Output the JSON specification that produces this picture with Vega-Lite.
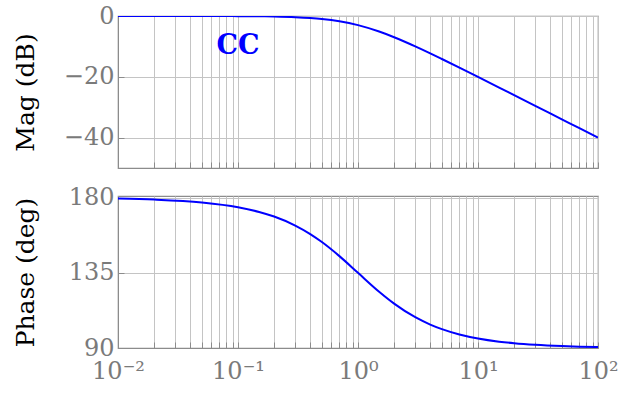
{
  "$schema": "https://vega.github.io/schema/vega-lite/v6.json",
  "autosize": "none",
  "padding": {"left": 118, "top": 16, "right": 20, "bottom": 377},
  "background": "white",
  "spacing": 15,
  "datasets": {
    "bode": [
      {"w": 0.01, "mag": 0.0, "phase": 179.43},
      {"w": 0.02, "mag": -0.002, "phase": 178.85},
      {"w": 0.05, "mag": -0.011, "phase": 177.14},
      {"w": 0.1, "mag": -0.043, "phase": 174.29},
      {"w": 0.15, "mag": -0.097, "phase": 171.47},
      {"w": 0.2, "mag": -0.17, "phase": 168.69},
      {"w": 0.3, "mag": -0.374, "phase": 163.3},
      {"w": 0.4, "mag": -0.645, "phase": 158.2},
      {"w": 0.5, "mag": -0.969, "phase": 153.43},
      {"w": 0.7, "mag": -1.73, "phase": 145.01},
      {"w": 1, "mag": -3.01, "phase": 135.0},
      {"w": 1.5, "mag": -5.12, "phase": 123.69},
      {"w": 2, "mag": -6.99, "phase": 116.57},
      {"w": 3, "mag": -10.0, "phase": 108.43},
      {"w": 4, "mag": -12.3, "phase": 104.04},
      {"w": 5, "mag": -14.15, "phase": 101.31},
      {"w": 7, "mag": -16.99, "phase": 98.13},
      {"w": 10, "mag": -20.04, "phase": 95.71},
      {"w": 15, "mag": -23.53, "phase": 93.81},
      {"w": 20, "mag": -26.03, "phase": 92.86},
      {"w": 30, "mag": -29.55, "phase": 91.91},
      {"w": 50, "mag": -33.98, "phase": 91.15},
      {"w": 70, "mag": -36.9, "phase": 90.82},
      {"w": 100, "mag": -40.0, "phase": 90.57}
    ],
    "label": [{"w": 0.1, "mag": -10, "text": "CC"}]
  },
  "config": {
    "font": "DejaVu Serif",
    "view": {"stroke": "#8c8c8c", "strokeWidth": 1.2},
    "axis": {
      "labelFont": "DejaVu Serif",
      "titleFont": "DejaVu Serif",
      "labelFontSize": 24,
      "titleFontSize": 25,
      "titleFontWeight": "normal",
      "labelColor": "#7a7a7a",
      "titleColor": "#000000",
      "gridColor": "#c4c4c4",
      "gridWidth": 1,
      "domainColor": "#8c8c8c",
      "tickColor": "#8c8c8c",
      "tickSize": -6,
      "labelOverlap": false,
      "labelFlush": false,
      "labelBound": false
    }
  },
  "vconcat": [
    {
      "width": 480,
      "height": 152,
      "layer": [
        {
          "data": {"name": "bode"},
          "mark": {"type": "line", "color": "#0000ff", "strokeWidth": 2, "interpolate": "monotone", "clip": true},
          "encoding": {
            "x": {"field": "w", "type": "quantitative", "scale": {"type": "log", "domain": [0.01, 100], "nice": false},
              "axis": {"title": null, "labels": false, "grid": true,
                "values": [0.01,0.02,0.03,0.04,0.05,0.06,0.07,0.08,0.09,0.1,0.2,0.3,0.4,0.5,0.6,0.7,0.8,0.9,1,2,3,4,5,6,7,8,9,10,20,30,40,50,60,70,80,90,100]}},
            "y": {"field": "mag", "type": "quantitative", "scale": {"domain": [-50, 0], "nice": false, "zero": false},
              "axis": {"title": "Mag (dB)", "values": [-40, -20, 0], "grid": true, "labelPadding": 10, "titleX": -80}}
          }
        },
        {
          "data": {"name": "label"},
          "mark": {"type": "text", "color": "#0000ff", "fontSize": 27, "fontWeight": "bold", "font": "DejaVu Serif"},
          "encoding": {
            "x": {"field": "w", "type": "quantitative"},
            "y": {"field": "mag", "type": "quantitative"},
            "text": {"field": "text"}
          }
        }
      ]
    },
    {
      "width": 480,
      "height": 152,
      "data": {"name": "bode"},
      "mark": {"type": "line", "color": "#0000ff", "strokeWidth": 2, "interpolate": "monotone", "clip": true},
      "encoding": {
        "x": {"field": "w", "type": "quantitative", "scale": {"type": "log", "domain": [0.01, 100], "nice": false},
          "axis": {"title": null, "grid": true, "labelPadding": 17,
            "values": [0.01,0.02,0.03,0.04,0.05,0.06,0.07,0.08,0.09,0.1,0.2,0.3,0.4,0.5,0.6,0.7,0.8,0.9,1,2,3,4,5,6,7,8,9,10,20,30,40,50,60,70,80,90,100],
            "labelExpr": "datum.value == 0.01 ? '10⁻²' : datum.value == 0.1 ? '10⁻¹' : datum.value == 1 ? '10⁰' : datum.value == 10 ? '10¹' : datum.value == 100 ? '10²' : ''"}},
        "y": {"field": "phase", "type": "quantitative", "scale": {"domain": [90, 181], "nice": false, "zero": false},
          "axis": {"title": "Phase (deg)", "values": [90, 135, 180], "grid": true, "labelPadding": 10, "titleX": -80}}
      }
    }
  ]
}
